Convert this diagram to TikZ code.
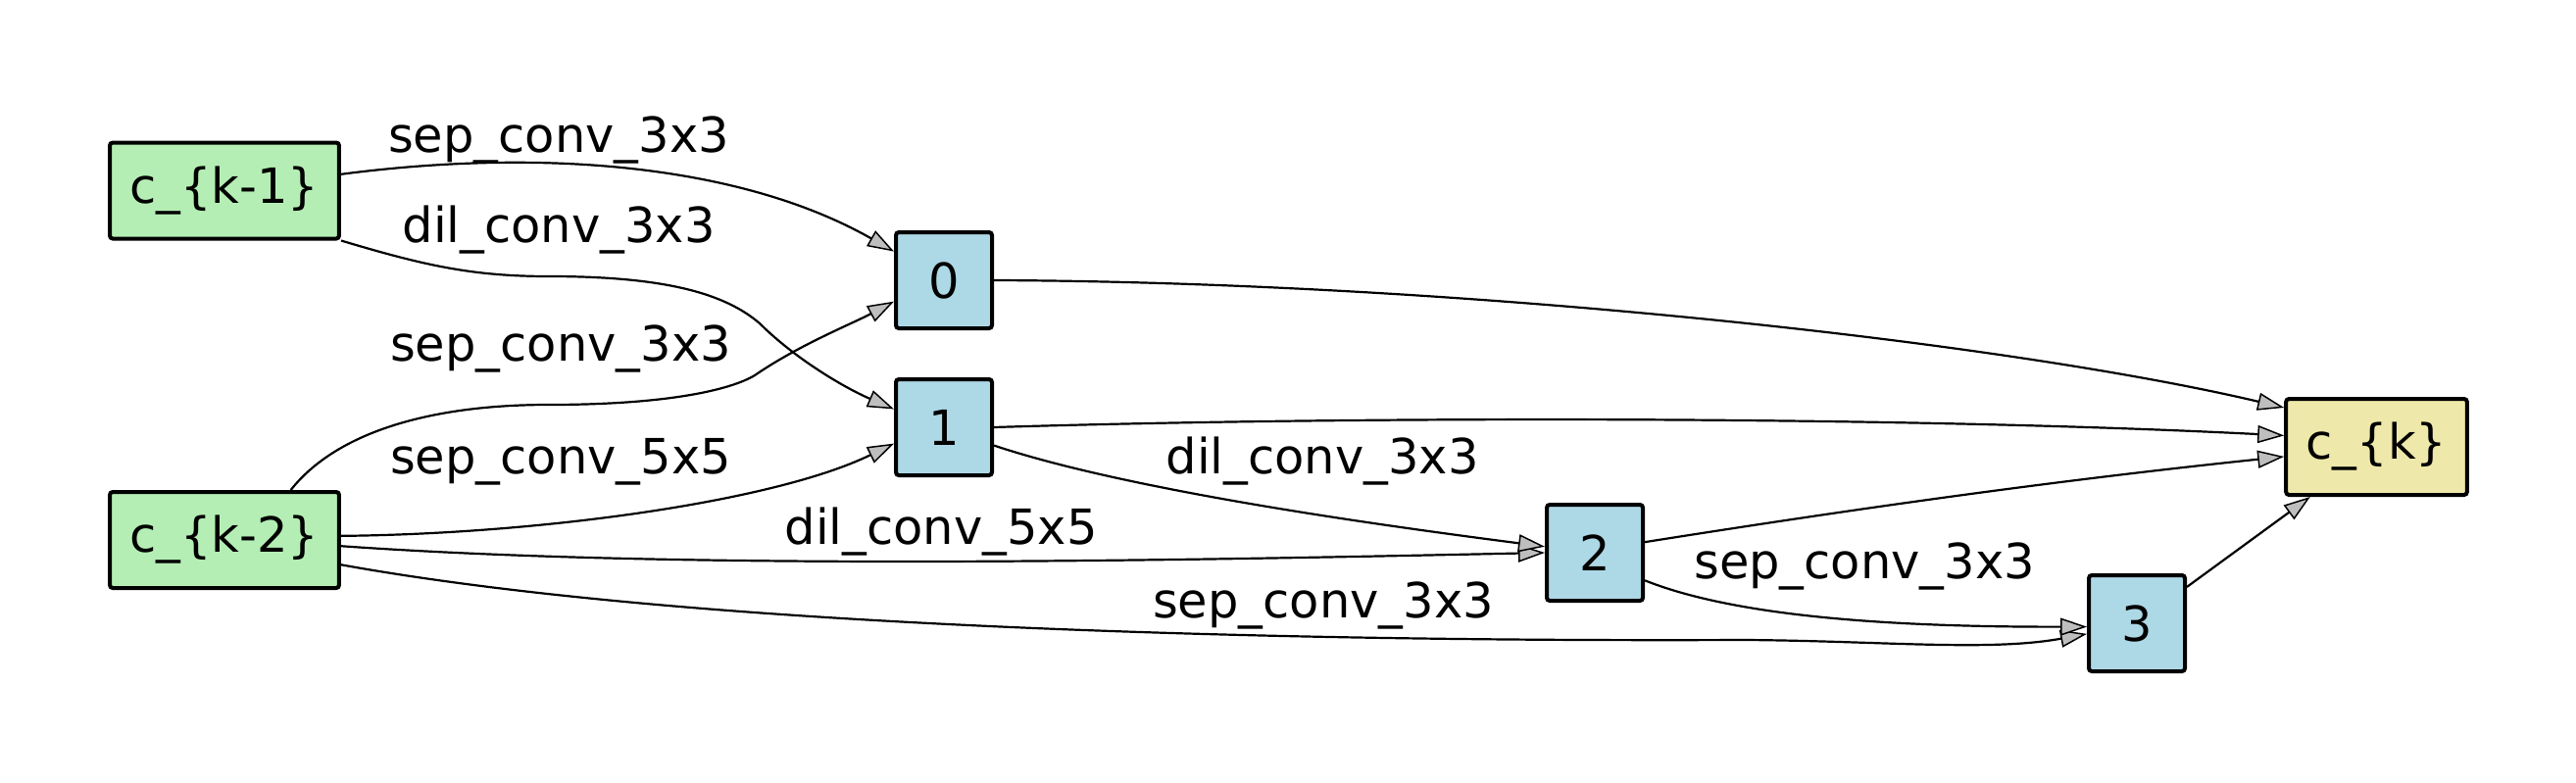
\documentclass[tikz,border=0pt]{standalone}
\usepackage{fontspec}
\setmainfont{DejaVu Sans}
\usetikzlibrary{arrows.meta}
\definecolor{inputgreen}{HTML}{B4EEB4}
\definecolor{steplblue}{HTML}{ADD8E6}
\definecolor{outyellow}{HTML}{EEE8AA}
\definecolor{tipgray}{HTML}{BEBEBE}
\tikzset{
	cellnode/.style={draw, line width=4pt, rounded corners=3pt, inner xsep=20.5pt, minimum height=98pt, minimum width=98pt, font=\fontsize{49.5}{59}\selectfont},
	opedge/.style={line width=2.2pt, -{Triangle[length=27pt, width=18pt, fill=tipgray, line width=1.5pt]}},
	oplabel/.style={anchor=base, inner sep=0pt, font=\fontsize{49.5}{59}\selectfont}
}
\begin{document}
\begin{tikzpicture}[x=1pt, y=-1pt]
			\useasboundingbox (0, 0) rectangle (2628, 798);
			%%
			\node[cellnode, fill=inputgreen] (ck1) at (229, 194.5) {c\_\{k-1\}};
			\node[cellnode, fill=inputgreen] (ck2) at (229, 551) {c\_\{k-2\}};
			\node[cellnode, fill=steplblue] (s0) at (963, 286) {0};
			\node[cellnode, fill=steplblue] (s1) at (963, 436) {1};
			\node[cellnode, fill=steplblue] (s2) at (1627, 564) {2};
			\node[cellnode, fill=steplblue] (s3) at (2180, 636) {3};
			\node[cellnode, fill=outyellow] (ck) at (2424.5, 456) {c\_\{k\}};
			%%
			\draw[opedge] (ck1.8) .. controls (560, 150) and (760, 170) .. (s0.150);
			\draw[opedge] (ck1.south east) .. controls (430, 270) and (480, 282) .. (560, 282) .. controls (680, 282) and (740, 300) .. (775, 330) .. controls (810, 365) and (860, 395) .. (s1.160);
			\draw[opedge] (ck2.37) .. controls (340, 445) and (430, 413) .. (560, 413) .. controls (680, 413) and (745, 398) .. (770, 383) .. controls (815, 352) and (870, 330) .. (s0.203);
			\draw[opedge] (ck2.2) .. controls (550, 545) and (790, 512) .. (s1.198);
			\draw[opedge] (ck2.-3) .. controls (700, 582) and (1200, 572) .. (s2.west);
			\draw[opedge] (ck2.-12) .. controls (700, 640) and (1300, 655) .. (1780, 653) .. controls (1920, 654) and (2030, 665) .. (s3.192);
			%%
			\draw[opedge] (s1.-20) .. controls (1150, 500) and (1400, 535) .. (s2.173);
			\draw[opedge] (s2.-29) .. controls (1760, 625) and (1900, 640) .. (s3.184);
			%%
			\draw[opedge] (s0.east) .. controls (1500, 288) and (2050, 350) .. (ck.157);
			\draw[opedge] (s1.east) .. controls (1400, 424) and (1950, 425) .. (ck.173);
			\draw[opedge] (s2.12) .. controls (1900, 518) and (2100, 490) .. (ck.186);
			\draw[opedge] (s3.36) -- (ck.217);
			%%
			\node[oplabel] (l1) at (570, 155) {sep\_conv\_3x3};
			\node[oplabel] (l2) at (570, 247) {dil\_conv\_3x3};
			\node[oplabel] (l3) at (572, 368) {sep\_conv\_3x3};
			\node[oplabel] (l4) at (572, 483) {sep\_conv\_5x5};
			\node[oplabel] (l5) at (960, 555) {dil\_conv\_5x5};
			\node[oplabel] (l6) at (1349, 483) {dil\_conv\_3x3};
			\node[oplabel] (l7) at (1350, 630) {sep\_conv\_3x3};
			\node[oplabel] (l8) at (1902, 590) {sep\_conv\_3x3};
\end{tikzpicture}
\end{document}
